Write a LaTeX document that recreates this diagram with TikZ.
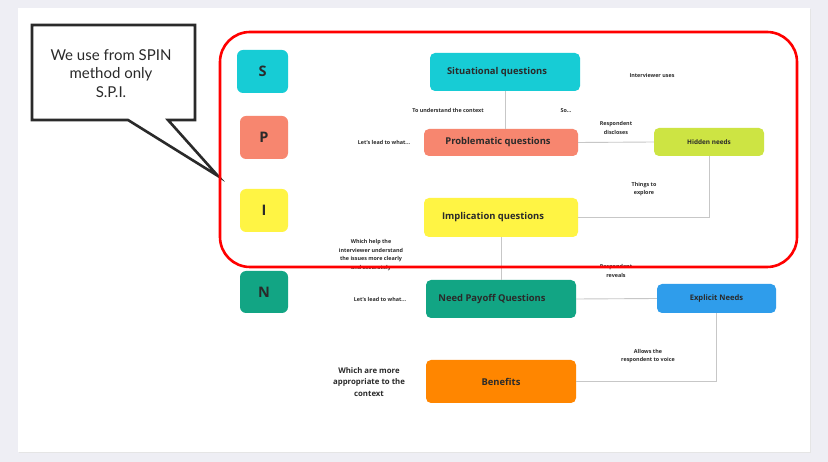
\documentclass[tikz,border=0pt]{standalone}
\usepackage{fontspec}
\setmainfont{Open Sans}
\newfontfamily\calloutfont{Lato}
\definecolor{sitcol}{HTML}{17CCD5}
\definecolor{probcol}{HTML}{F7866F}
\definecolor{impcol}{HTML}{FFF444}
\definecolor{paycol}{HTML}{12A584}
\definecolor{hidcol}{HTML}{CDE443}
\definecolor{expcol}{HTML}{2F9DEB}
\definecolor{bencol}{HTML}{FF8600}
\definecolor{pagebg}{HTML}{EEEEF4}
\definecolor{ink}{HTML}{2A2A2A}

\begin{document}
\begin{tikzpicture}[x=1pt,y=-1pt,
    qbox/.style={rounded corners=5pt,inner sep=0pt,text=ink,
        font=\bfseries\fontsize{9.4}{11}\selectfont},
    letterbox/.style={rounded corners=6pt,inner sep=0pt,text=ink,
        minimum width=48pt,minimum height=43pt,
        font=\bfseries\fontsize{14.5}{16}\selectfont},
    note/.style={align=center,text=ink,
        font=\bfseries\fontsize{5.4}{8.8}\selectfont},
    link/.style={draw=black!22,line width=0.9pt}]
    \useasboundingbox (0,0) rectangle (828,462);
    \fill[pagebg] (0,0) rectangle (828,462);
    \fill[black!10] (19,9) rectangle (811,453);
    \fill[white] (18,8) rectangle (810,452);

    % callout
    \draw[line width=2.6pt,fill=white,line join=miter,draw=ink]
        (32,25) -- (195,25) -- (195,120) -- (168,120) -- (218,176)
        -- (128,120) -- (32,120) -- cycle;
    \node[align=center,text=ink,font=\calloutfont\fontsize{15}{18.5}\selectfont]
        (callout) at (111,73.5) {We use from SPIN\\method only\\S.P.I.};

    % letters
    \node[letterbox,fill=sitcol,minimum width=51pt] (S) at (262.5,71.5) {S};
    \node[letterbox,fill=probcol] (P) at (264,137.5) {P};
    \node[letterbox,fill=impcol] (I) at (264,210.5) {I};
    \node[letterbox,fill=paycol,minimum height=42pt] (N) at (264,292) {N};

    % question boxes
    \node[qbox,fill=sitcol,minimum width=150pt,minimum height=38pt]
        (sit) at (505,72) {Situational questions\hspace*{16pt}};
    \node[qbox,fill=probcol,minimum width=154pt,minimum height=27pt]
        (prob) at (501,142.5) {Problematic questions\hspace*{6pt}};
    \node[qbox,fill=hidcol,minimum width=110pt,minimum height=28pt,
        font=\bfseries\fontsize{6.4}{8}\selectfont]
        (hid) at (709,142) {Hidden needs};
    \node[qbox,fill=impcol,minimum width=154pt,minimum height=39pt]
        (imp) at (501,217.5) {Implication questions\hspace*{16pt}};
    \node[qbox,fill=paycol,minimum width=150pt,minimum height=38pt]
        (pay) at (501,299) {Need Payoff Questions\hspace*{18pt}};
    \node[qbox,fill=expcol,minimum width=119pt,minimum height=29pt,
        font=\bfseries\fontsize{7.6}{9}\selectfont]
        (exp) at (716.5,298.5) {Explicit Needs};
    \node[qbox,fill=bencol,minimum width=150pt,minimum height=43pt]
        (ben) at (501,381.5) {Benefits};

    % connectors
    \draw[link] (sit.south) -- (sit.south |- prob.north);
    \draw[link] (prob.east) -- (hid.west);
    \draw[link] (hid.south) |- (imp.east);
    \draw[link] (imp.south) -- (pay.north);
    \draw[link] (pay.east) -- (exp.west);
    \draw[link] (exp.south) |- (ben.east);

    % labels
    \node[note] (uses) at (652,75) {Interviewer uses};
    \node[note] (context) at (448,110.5) {To understand the context};
    \node[note] (so) at (566,110.5) {So...};
    \node[note] (lead1) at (384,142.5) {Let's lead to what...};
    \node[note] (discl) at (616,128) {Respondent\\discloses};
    \node[note] (explore) at (644,189) {Things to\\explore};
    \node[note] (helps) at (371,255) {Which help the\\interviewer understand\\the issues more clearly\\and accurately};
    \node[note] (reveal) at (616,271) {Respondent\\reveals};
    \node[note] (lead2) at (380,299) {Let's lead to what...};
    \node[note] (voice) at (648,356) {Allows the\\respondent to voice};
    \node[note,font=\bfseries\fontsize{7.8}{11.5}\selectfont]
        (approp) at (369,382) {Which are more\\appropriate to the\\context};

    % S.P.I. frame
    \draw[red,line width=2.6pt,rounded corners=30pt] (220,32) rectangle (797,267);
\end{tikzpicture}
\end{document}
